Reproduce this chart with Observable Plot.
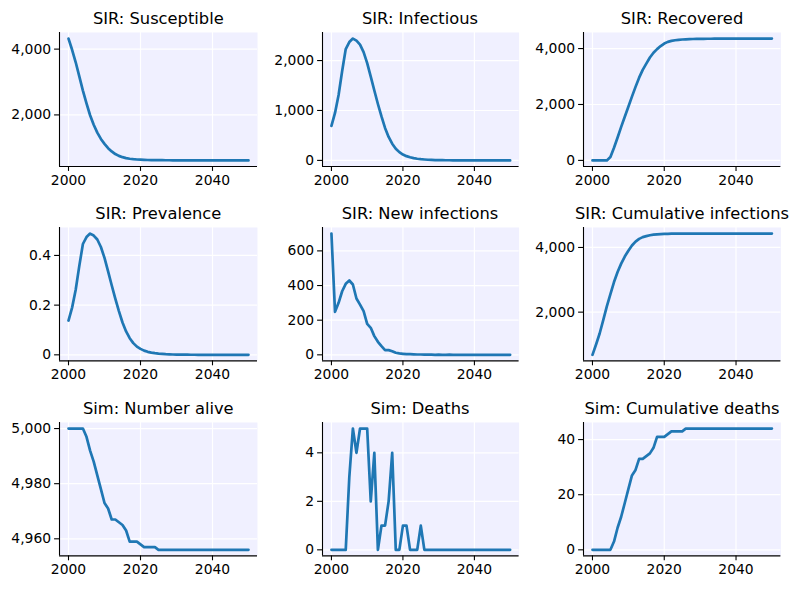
<!DOCTYPE html>
<html><head><meta charset="utf-8">
<script src="https://cdn.jsdelivr.net/npm/d3@7"></script>
<script src="https://cdn.jsdelivr.net/npm/@observablehq/plot@0.6"></script>
<style>
body{margin:0;background:#fff;}
#root{position:relative;width:800px;height:590px;font-family:"DejaVu Sans",sans-serif;background:#fff;overflow:hidden;}
.title{position:absolute;font-size:16.3px;color:#000;white-space:nowrap;transform:translateX(-50%);line-height:1;}
.panel{position:absolute;}
</style></head><body><div id="root"></div>
<script>
const years = [2000,2001,2002,2003,2004,2005,2006,2007,2008,2009,2010,2011,2012,2013,2014,2015,2016,2017,2018,2019,2020,2021,2022,2023,2024,2025,2026,2027,2028,2029,2030,2031,2032,2033,2034,2035,2036,2037,2038,2039,2040,2041,2042,2043,2044,2045,2046,2047,2048,2049,2050];

const susceptible = [4320,3980,3600,3170,2740,2350,1990,1700,1460,1270,1120,990,890,810,755,715,688,668,655,645,638,633,630,627,625,624,623,622,622,621,621,
  620,620,620,620,620,620,620,620,620,620,619,619,619,618,618,618,617,617,617,617];
const infectious = [690,950,1310,1790,2230,2370,2440,2400,2320,2170,1950,1680,1400,1130,880,650,470,335,235,165,118,85,62,45,33,24,18,13,10,7,5,
  4,3,3,2,2,1,1,1,1,0,0,0,0,0,0,0,0,0,0,0];
const recovered = [0,0,0,0,0,120,450,820,1200,1560,1920,2280,2630,2960,3240,3460,3680,3850,3980,4090,4180,4240,4275,4298,4313,4324,4332,4338,4342,4345,4348,
  4350,4351,4352,4353,4354,4355,4355,4356,4356,4356,4357,4357,4357,4357,4357,4357,4357,4357,4357,4357];
const prevalence = [0.138,0.19,0.262,0.358,0.446,0.474,0.488,0.48,0.464,0.434,0.39,0.336,0.28,0.226,0.176,0.13,0.094,0.067,0.047,0.033,0.024,0.017,0.012,0.009,0.0066,0.0048,0.0036,0.0026,0.002,0.0014,0.001,
  0.0008,0.0006,0.0006,0.0004,0.0004,0.0002,0.0002,0.0002,0.0002,0,0,0,0,0,0,0,0,0,0,0];
const newInfections = [700,248,300,367,410,429,406,325,290,252,179,156,108,75,50,27,27,21,12,8,6,4,4,3,2,2,1,1,1,0,1,
  0,0,1,0,0,0,0,0,0,0,0,0,0,0,0,0,0,0,0,0];
const cumInfections = [680,1000,1340,1750,2180,2560,2930,3240,3500,3720,3900,4060,4180,4265,4320,4352,4378,4396,4407,4414,4419,4422,4425,4427,4428,4429,4429,4430,
  4430,4430,4430,4430,4430,4430,4430,4430,4430,4430,4430,4430,4430,4430,4430,4430,4430,4430,4430,4430,4430,4430,4430];
const alive = [5000,5000,5000,5000,5000,4997,4992,4988,4983,4978,4973,4971,4967,4967,4966,4965,4963,4959,4959,4959,4958,4957,4957,4957,4957,
  4956,4956,4956,4956,4956,4956,4956,4956,4956,4956,4956,4956,4956,4956,4956,4956,4956,4956,4956,4956,4956,4956,4956,4956,4956,4956];
const deaths = [0,0,0,0,0,3,5,4,5,5,5,2,4,0,1,1,2,4,0,0,1,1,0,0,0,1,
  0,0,0,0,0,0,0,0,0,0,0,0,0,0,0,0,0,0,0,0,0,0,0,0,0];
const cumDeaths = [0,0,0,0,0,0,3,8,12,17,22,27,29,33,33,34,35,37,41,41,41,42,43,43,43,43,
  44,44,44,44,44,44,44,44,44,44,44,44,44,44,44,44,44,44,44,44,44,44,44,44,44];

const titles = ["SIR: Susceptible","SIR: Infectious","SIR: Recovered","SIR: Prevalence","SIR: New infections","SIR: Cumulative infections","Sim: Number alive","Sim: Deaths","Sim: Cumulative deaths"];
const series = [susceptible, infectious, recovered, prevalence, newInfections, cumInfections, alive, deaths, cumDeaths];
const yTicks = [[2000,4000],[0,1000,2000],[0,2000,4000],[0,0.2,0.4],[0,200,400,600],[2000,4000],[4960,4980,5000],[0,2,4],[0,20,40]];
const xTicks = [2000,2020,2040];

const root = document.getElementById("root");
const cols = [[59.3,257.3],[321.7,518.3],[583.3,780.7]];
const rows = [[31.7,165.7],[227.3,360.7],[422.3,555.7]];
const fmt = d3.format(",");

function pad(ext){ const r = ext[1]-ext[0]; return [ext[0]-0.05*r, ext[1]+0.05*r]; }

series.forEach((vals, i) => {
  const [L,R] = cols[i%3], [T,B] = rows[Math.floor(i/3)];
  const ML=60, MR=12, MT=6, MB=30;
  const data = years.map((y,k)=>({year:y, value:vals[k]}));
  const xd = pad(d3.extent(years));
  const yd = pad(d3.extent(vals));
  const chart = Plot.plot({
    width: (R-L)+ML+MR, height: (B-T)+MT+MB,
    marginLeft: ML, marginRight: MR, marginTop: MT, marginBottom: MB,
    x: {domain: xd},
    y: {domain: yd},
    style: {background:"transparent", fontFamily:"DejaVu Sans", fontSize:"13.9px", color:"#000", overflow:"visible"},
    marks: [
      Plot.frame({fill:"#f0f0ff", stroke:null}),
      Plot.gridX(xTicks, {stroke:"#fff", strokeOpacity:1, strokeWidth:1.2}),
      Plot.gridY(yTicks[i], {stroke:"#fff", strokeOpacity:1, strokeWidth:1.2}),
      Plot.lineY(data, {x:"year", y:"value", stroke:"#1f77b4", strokeWidth:2.7, strokeLinejoin:"round"}),
      Plot.axisX(xTicks, {tickSize:4.9, tickPadding:3.5, tickFormat:d=>String(d), label:null, strokeWidth:1.1, fontSize:13.9}),
      Plot.axisY(yTicks[i], {tickSize:4.9, tickPadding:3.5, tickFormat:fmt, label:null, strokeWidth:1.1, fontSize:13.9}),
      Plot.ruleX([xd[0]], {stroke:"#000", strokeWidth:1.1}),
      Plot.ruleY([yd[0]], {stroke:"#000", strokeWidth:1.1})
    ]
  });
  chart.classList.add("panel");
  chart.style.left = (L-ML)+"px";
  chart.style.top = (T-MT)+"px";
  root.appendChild(chart);
  const t = document.createElement("div");
  t.className = "title";
  t.textContent = titles[i];
  t.style.left = ((L+R)/2)+"px";
  t.style.top = (T-21.2)+"px";
  root.appendChild(t);
});
</script>
</body></html>
